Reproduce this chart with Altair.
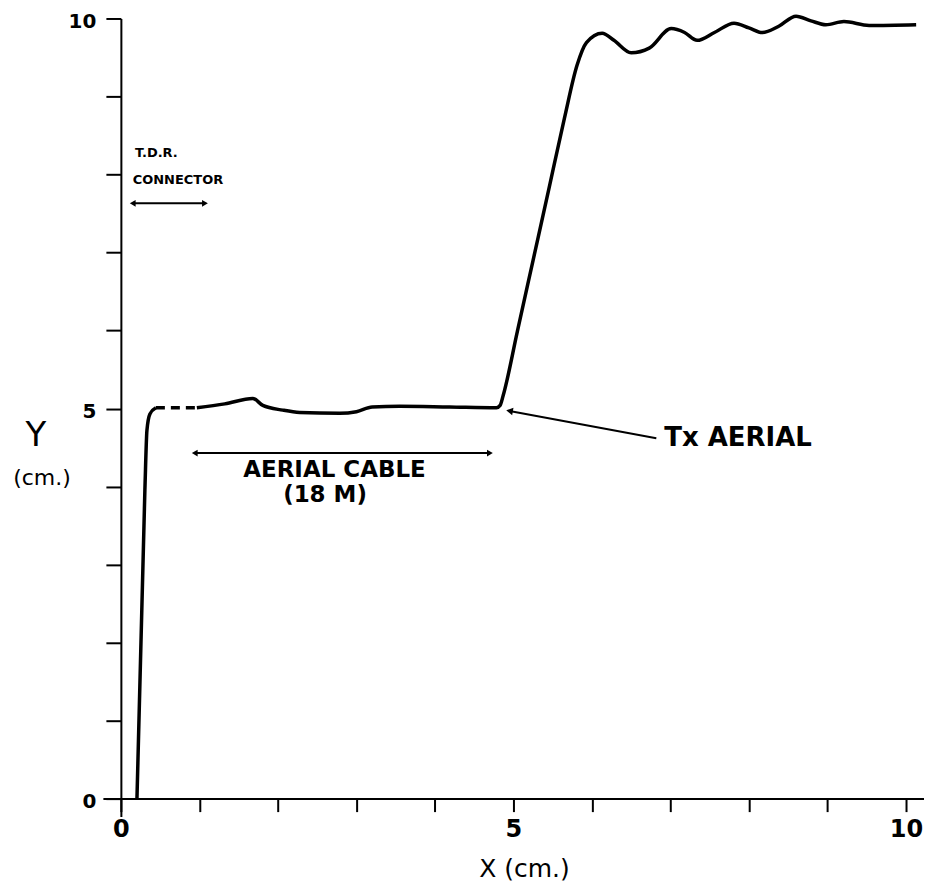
import altair as alt
import pandas as pd

# ---- data (cm units) ----
rise_x = [0.204, 0.305, 0.331, 0.369, 0.445]
rise_y = [0.0, 3.96, 4.72, 4.93, 5.01]

dash_x = [0.445, 0.967]
dash_y = [5.01, 5.01]

trace_x = [0.967, 1.323, 1.679, 1.807, 2.061, 2.277, 2.786, 3.0, 3.2, 3.55,
           4.186, 4.784, 4.83, 4.87, 5.05, 5.25, 5.45, 5.649, 5.81, 5.93,
           6.13, 6.28, 6.50, 6.73, 7.01, 7.18, 7.34, 7.56, 7.81, 8.00,
           8.17, 8.38, 8.60, 8.79, 8.98, 9.21, 9.53, 10.13]
trace_y = [5.01, 5.06, 5.13, 5.04, 4.98, 4.95, 4.94, 4.96, 5.02, 5.03,
           5.02, 5.01, 5.04, 5.17, 5.99, 6.90, 7.81, 8.72, 9.40, 9.69,
           9.81, 9.72, 9.56, 9.62, 9.87, 9.82, 9.72, 9.82, 9.94, 9.88,
           9.82, 9.90, 10.03, 9.97, 9.92, 9.96, 9.91, 9.92]

tick_values = list(range(11))
label_values = [0, 5, 10]

# annotation arrows (data coords): x, x2, y
cable_arrow = [0.94, 4.70, 4.43]
tdr_arrow = [0.15, 1.07, 7.63]
tx_arrow = [4.95, 4.97, 6.82, 4.62]  # x (head), y (head), x2, y2

FONT = "DejaVu Sans"
XDOM = [-0.23, 10.23]
YDOM = [-0.23, 10.0]
W, H = 822, 799

xs = alt.Scale(domain=XDOM, nice=False, zero=False)
ys = alt.Scale(domain=YDOM, nice=False, zero=False)

lab_expr = "indexof([0,5,10], datum.value) >= 0 ? datum.label : ''"

xaxis = alt.Axis(values=tick_values, labelExpr=lab_expr, format="d", offset=-18,
                 tickSize=13, tickWidth=2, domainWidth=2, domainColor="black",
                 tickColor="black", grid=False, labelFontSize=24, labelFont=FONT,
                 labelFontWeight="bold", labelColor="black", labelPadding=6,
                 title=None, labelFlush=False, labelOverlap=False)
yaxis = alt.Axis(values=tick_values, labelExpr=lab_expr, format="d", offset=-18,
                 tickSize=15, tickWidth=2, domainWidth=2, domainColor="black",
                 tickColor="black", grid=False, labelFontSize=20, labelFont=FONT,
                 labelFontWeight="bold", labelColor="black", labelPadding=10,
                 labelOffset=3, title=None, labelFlush=False, labelOverlap=False)

rise_df = pd.DataFrame({"x": rise_x, "y": rise_y})
dash_df = pd.DataFrame({"x": dash_x, "y": dash_y})
trace_df = pd.DataFrame({"x": trace_x, "y": trace_y})

base_rise = alt.Chart(rise_df).mark_line(color="black", strokeWidth=3.5, interpolate="monotone").encode(
    x=alt.X("x:Q", scale=xs, axis=xaxis),
    y=alt.Y("y:Q", scale=ys, axis=yaxis),
)
dash = alt.Chart(dash_df).mark_line(color="black", strokeWidth=3.5, strokeDash=[9, 6]).encode(
    x=alt.X("x:Q", scale=xs), y=alt.Y("y:Q", scale=ys))
trace = alt.Chart(trace_df).mark_line(color="black", strokeWidth=3.5, interpolate="monotone").encode(
    x=alt.X("x:Q", scale=xs), y=alt.Y("y:Q", scale=ys))

# double arrows
arrows_df = pd.DataFrame({
    "x": [cable_arrow[0], tdr_arrow[0]],
    "x2": [cable_arrow[1], tdr_arrow[1]],
    "y": [cable_arrow[2], tdr_arrow[2]],
})
arrow_lines = alt.Chart(arrows_df).mark_rule(color="black", strokeWidth=2).encode(
    x=alt.X("x:Q", scale=xs), x2="x2:Q", y=alt.Y("y:Q", scale=ys))
heads_df = pd.DataFrame({
    "x": [cable_arrow[0], cable_arrow[1], tdr_arrow[0], tdr_arrow[1]],
    "y": [cable_arrow[2], cable_arrow[2], tdr_arrow[2], tdr_arrow[2]],
    "s": ["triangle-left", "triangle-right", "triangle-left", "triangle-right"],
})
heads = alt.Chart(heads_df).mark_point(filled=True, color="black", size=45, opacity=1).encode(
    x=alt.X("x:Q", scale=xs), y=alt.Y("y:Q", scale=ys),
    shape=alt.Shape("s:N", scale=None, legend=None))

tx_df = pd.DataFrame({"x": [tx_arrow[0]], "y": [tx_arrow[1]], "x2": [tx_arrow[2]], "y2": [tx_arrow[3]]})
tx_line = alt.Chart(tx_df).mark_rule(color="black", strokeWidth=2).encode(
    x=alt.X("x:Q", scale=xs), y=alt.Y("y:Q", scale=ys), x2="x2:Q", y2="y2:Q")
tx_head = alt.Chart(tx_df).mark_point(filled=True, color="black", size=60, opacity=1,
                                      shape="triangle-left", angle=10).encode(
    x=alt.X("x:Q", scale=xs), y=alt.Y("y:Q", scale=ys))

# texts in data coords
txt_df = pd.DataFrame({
    "x": [2.72, 2.60, 0.18, 0.15, 6.92],
    "y": [4.21, 3.89, 8.28, 7.93, 4.62],
    "t": ["AERIAL CABLE", "(18 M)", "T.D.R.", "CONNECTOR", "Tx AERIAL"],
    "size": [23, 23, 13, 13, 26],
    "align": ["center", "center", "left", "left", "left"],
})
def txt(i):
    r = txt_df.iloc[[i]]
    return alt.Chart(r).mark_text(font=FONT, fontWeight="bold", color="black",
                                  fontSize=int(r["size"].iloc[0]), align=r["align"].iloc[0],
                                  baseline="middle").encode(
        x=alt.X("x:Q", scale=xs), y=alt.Y("y:Q", scale=ys), text="t:N")
texts = [txt(i) for i in range(len(txt_df))]

# axis titles (pixel positions relative to plot area)
ytitle1 = alt.Chart(pd.DataFrame({"t": ["Y"]})).mark_text(
    font=FONT, fontSize=34, color="black", align="center", baseline="middle").encode(
    x=alt.value(-67), y=alt.value(418), text="t:N")
ytitle2 = alt.Chart(pd.DataFrame({"t": ["(cm.)"]})).mark_text(
    font=FONT, fontSize=22, color="black", align="center", baseline="middle").encode(
    x=alt.value(-61), y=alt.value(460), text="t:N")
xtitle = alt.Chart(pd.DataFrame({"t": ["X (cm.)"]})).mark_text(
    font=FONT, fontSize=25, color="black", align="center", baseline="middle").encode(
    x=alt.value(422), y=alt.value(851), text="t:N")

chart = alt.layer(base_rise, dash, trace, arrow_lines, heads, tx_line, tx_head,
                  *texts, ytitle1, ytitle2, xtitle).properties(
    width=W, height=H,
    autosize=alt.AutoSizeParams(type="none"),
    padding={"left": 95, "top": 10, "right": 0, "bottom": 72},
    background="white",
).configure_view(stroke=None)

chart.save("out.html", embed_options={"renderer": "svg", "actions": False})
